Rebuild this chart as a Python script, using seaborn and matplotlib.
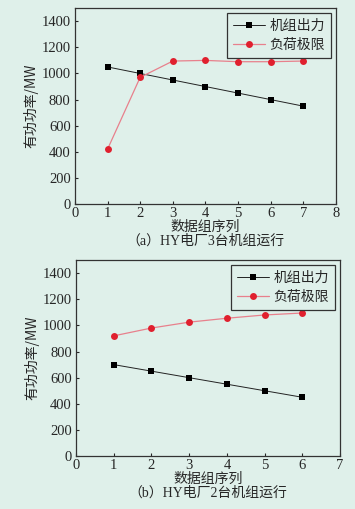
import numpy as np
import matplotlib.pyplot as plt
import seaborn as sns

# data
x_a = [1, 2, 3, 4, 5, 6, 7]
unit_out_a = [1050, 1000, 950, 900, 850, 800, 750]
load_lim_a = [420, 970, 1095, 1100, 1090, 1090, 1095]

x_b = [1, 2, 3, 4, 5, 6]
unit_out_b = [700, 650, 600, 550, 500, 450]
load_lim_b = [920, 980, 1025, 1055, 1080, 1095]

series_names = ['机组出力', '负荷极限']
captions = ['（a）HY电厂3台机组运行', '（b）HY电厂2台机组运行']
xlabel = '数据组序列'
ylabel = '有功功率/MW'

bg = '#dff0ea'
sns.set_style('ticks')
plt.rcParams['font.family'] = ['Liberation Serif', 'Noto Sans CJK SC', 'DejaVu Sans']
plt.rcParams['axes.facecolor'] = bg
plt.rcParams['figure.facecolor'] = bg
plt.rcParams['axes.edgecolor'] = '#333333'
plt.rcParams['axes.linewidth'] = 0.9

fig = plt.figure(figsize=(3.55, 5.09), dpi=100)
ax1 = fig.add_axes([0.211, 0.599, 0.735, 0.385])
ax2 = fig.add_axes([0.214, 0.104, 0.744, 0.385])

panels = [(ax1, x_a, unit_out_a, load_lim_a, 8, captions[0]),
          (ax2, x_b, unit_out_b, load_lim_b, 7, captions[1])]

for ax, xs, s1, s2, xmax, cap in panels:
    sns.lineplot(x=xs, y=s1, ax=ax, color='#222222', lw=0.7, marker='s',
                 markersize=4.5, markeredgewidth=0, markerfacecolor='black',
                 label=series_names[0])
    sns.lineplot(x=xs, y=s2, ax=ax, color='#e8808c', lw=0.9, marker='o',
                 markersize=5, markeredgewidth=0, markerfacecolor='#e0202e',
                 label=series_names[1])
    ax.set_xlim(0, xmax)
    ax.set_ylim(0, 1500)
    ax.set_xticks(range(0, xmax + 1))
    ax.set_yticks(range(0, 1401, 200))
    ax.tick_params(labelsize=10.5, length=2, width=0.8, direction='in')
    ax.tick_params(axis='x', pad=2)
    ax.tick_params(axis='y', pad=3)
    ax.set_xlabel(xlabel, fontsize=10, labelpad=0, family=['Noto Sans CJK SC'])
    ax.set_ylabel(ylabel, fontsize=10, labelpad=2, family=['Noto Sans CJK SC', 'Liberation Serif'])
    for sp in ax.spines.values():
        sp.set_visible(True)
    leg = ax.legend(loc='upper right', frameon=True, fancybox=False,
                    edgecolor='#333333', facecolor=bg, framealpha=1,
                    handlelength=2.3, handletextpad=0.3, borderpad=0.45,
                    labelspacing=0.35, borderaxespad=0.35,
                    prop={'family': ['Noto Sans CJK SC'], 'size': 10})
    leg.get_frame().set_linewidth(0.9)
    ax.text(0.5, -0.19, cap, transform=ax.transAxes, ha='center', va='center',
            fontsize=10, family=['Liberation Serif', 'Noto Sans CJK SC'])

fig.savefig('out.png', dpi=100, facecolor=bg)
